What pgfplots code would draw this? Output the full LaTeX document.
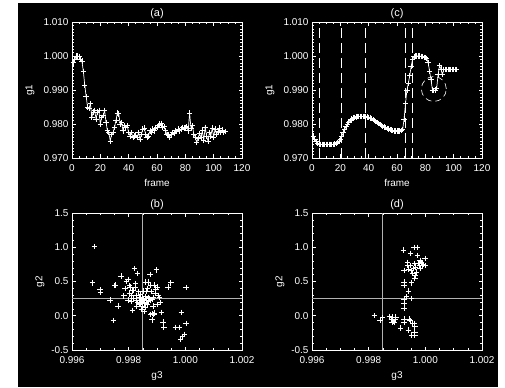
\documentclass[border=0pt]{standalone}
\usepackage{pgfplots}
\pgfplotsset{compat=1.18}
\usepackage{fontspec}
\setmainfont{Liberation Sans}
\newcommand{\idlfont}{\fontsize{10}{12}\selectfont}
\tikzset{ptitle/.style={white, font=\fontsize{11}{13}\selectfont, anchor=center}}

\pgfplotsset{idl/.style={
  scale only axis, width=170bp, height=136bp,
  anchor=south west,
  clip mode=individual,
  axis line style={white, line width=0.8bp},
  every tick/.style={white, line width=0.6bp},
  major tick length=3.5bp, minor tick length=2bp,
  tick align=inside,
  xtick pos=both, ytick pos=both,
  scaled ticks=false,
  tick label style={white, font=\idlfont},
  xticklabel style={yshift=-3bp},
  /pgf/number format/assume math mode=true,
  every axis x label/.style={at={(axis description cs:0.5,-0.184)}, anchor=center, white, font=\idlfont},
},
ylab/.style={every axis y label/.style={at={(axis description cs:#1,0.5)}, rotate=90, anchor=center, white, font=\idlfont}},
seriesline/.style={white, line width=0.7bp, mark=+, mark size=2.7bp, mark options={white, line width=0.7bp}},
scat/.style={only marks, mark=+, mark size=2.7bp, mark options={white, line width=0.8bp}},
}

\begin{document}
\begin{tikzpicture}[x=1bp,y=1bp]
\useasboundingbox (0,0) rectangle (505,387);
\fill[white] (0,0) rectangle (505,387);
\fill[black] (18,0) rectangle (498,384);

% ---------------- (a)
\begin{axis}[idl, at={(72bp,229bp)}, ylab=-0.247,
  xlabel={frame}, ylabel={g1},
  xmin=0, xmax=120, xtick={0,20,40,60,80,100,120}, minor x tick num=3,
  ymin=0.970, ymax=1.010, ytick={0.970,0.980,0.990,1.000,1.010}, minor y tick num=9,
  yticklabel style={/pgf/number format/.cd, fixed, fixed zerofill, precision=3},
]
\node[ptitle] at (rel axis cs:0.5,1.06) {(a)};
\addplot[seriesline] coordinates {
(1,0.998) (2,0.999) (3,1.000) (4,1.000) (5,0.9998) (6,0.999) (7,0.9985) (8,0.9955)
(9,0.9915) (10,0.988) (11,0.985) (12,0.9845) (13,0.986) (14,0.982) (15,0.9835) (16,0.984)
(17,0.9815) (18,0.9835) (19,0.984) (20,0.980) (21,0.982) (22,0.9825) (23,0.984) (24,0.9805)
(25,0.978) (26,0.9775) (27,0.975) (28,0.977) (29,0.9775) (30,0.979) (31,0.981) (32,0.9832)
(33,0.983) (34,0.980) (35,0.9805) (36,0.978) (37,0.9795) (38,0.979) (39,0.9795) (40,0.9775)
(41,0.9765) (42,0.9775) (43,0.976) (44,0.9765) (45,0.9768) (46,0.976) (47,0.9775) (48,0.9755)
(49,0.977) (50,0.9785) (51,0.9788) (52,0.977) (53,0.976) (54,0.9765) (55,0.978) (56,0.9775)
(57,0.9785) (58,0.978) (59,0.9788) (60,0.979) (61,0.9795) (62,0.980) (63,0.9802) (64,0.979)
(65,0.9792) (66,0.978) (67,0.977) (68,0.9768) (69,0.9762) (70,0.977) (71,0.9775) (72,0.9772)
(73,0.978) (74,0.9778) (75,0.9785) (76,0.978) (77,0.9785) (78,0.979) (79,0.9788) (80,0.979)
(81,0.9792) (82,0.978) (83,0.9832) (84,0.9788) (85,0.9795) (86,0.977) (87,0.9762) (88,0.9745)
(89,0.9758) (90,0.9772) (91,0.976) (92,0.978) (93,0.9752) (94,0.979) (95,0.9765) (96,0.975)
(97,0.9775) (98,0.9765) (99,0.9788) (100,0.9762) (101,0.9785) (102,0.977) (103,0.9778)
(104,0.9788) (105,0.9775) (106,0.9782) (107,0.9775) (108,0.9778)
};
\end{axis}

% ---------------- (c)
\begin{axis}[idl, at={(312bp,229bp)}, ylab=-0.247,
  xlabel={frame}, ylabel={g1},
  xmin=0, xmax=120, xtick={0,20,40,60,80,100,120}, minor x tick num=3,
  ymin=0.970, ymax=1.010, ytick={0.970,0.980,0.990,1.000,1.010}, minor y tick num=9,
  yticklabel style={/pgf/number format/.cd, fixed, fixed zerofill, precision=3},
]
\node[ptitle] at (rel axis cs:0.5,1.06) {(c)};
\foreach \xv in {5,20.5,37.5,65.5,70.8}{
  \edef\tmp{\noexpand\addplot[white, line width=0.6bp, dash pattern=on 10bp off 5bp] coordinates {(\xv,0.970) (\xv,1.010)};}
  \tmp
}
\addplot[seriesline] coordinates {
(1,0.9765) (2,0.9755) (3,0.9748) (4,0.9743) (5,0.9741) (6,0.974) (7,0.974) (8,0.974)
(9,0.974) (10,0.974) (11,0.974) (12,0.974) (13,0.974) (14,0.974) (15,0.974) (16,0.9741)
(17,0.9743) (18,0.9746) (19,0.975) (20,0.9756) (21,0.9764) (22,0.9774) (23,0.9784) (24,0.9793)
(25,0.980) (26,0.9806) (27,0.9811) (28,0.9815) (29,0.9818) (30,0.982) (31,0.9821) (32,0.9822)
(33,0.9822) (34,0.9822) (35,0.9822) (36,0.9822) (37,0.9822) (38,0.9822) (39,0.9821) (40,0.982)
(41,0.9818) (42,0.9816) (43,0.9813) (44,0.981) (45,0.9807) (46,0.9804) (47,0.9801) (48,0.9798)
(49,0.9796) (50,0.9793) (51,0.9791) (52,0.9789) (53,0.9787) (54,0.9785) (55,0.9783) (56,0.9782)
(57,0.9781) (58,0.978) (59,0.9779) (60,0.9779) (61,0.9779) (62,0.978) (63,0.9781) (64,0.9784)
(65,0.9815) (66,0.986) (67,0.990) (68,0.992) (69,0.9942) (70,0.997) (71,0.999) (72,0.9998)
(73,1.000) (74,1.000) (75,1.000) (76,1.000) (77,0.9999) (78,0.9998) (79,0.9996) (80,0.9995)
(81,0.9993) (82,0.998) (83,0.9955) (84,0.993) (85,0.990) (86,0.9898) (87,0.990) (88,0.9905)
(89,0.9945) (90,0.9972) (91,0.9962) (92,0.9945) (93,0.996) (94,0.996) (95,0.996) (96,0.996)
(97,0.996) (98,0.996) (99,0.996) (100,0.996) (101,0.996) (102,0.996)
};
\draw[white, line width=0.6bp, dash pattern=on 6bp off 4bp] (axis cs:86,0.9903) circle [radius=12.5bp];
\end{axis}

% ---------------- (b)
\begin{axis}[idl, at={(72bp,37bp)}, height=137bp, ylab=-0.188,
  xlabel={g3}, ylabel={g2},
  every axis x label/.append style={at={(axis description cs:0.5,-0.19)}},
  xmin=0.996, xmax=1.002, xtick={0.996,0.998,1.000,1.002}, minor x tick num=3,
  ymin=-0.5, ymax=1.5, ytick={-0.5,0,0.5,1,1.5}, minor y tick num=4,
  xticklabel style={/pgf/number format/.cd, fixed, fixed zerofill, precision=3},
  yticklabel style={/pgf/number format/.cd, fixed, fixed zerofill, precision=1},
]
\node[ptitle] at (rel axis cs:0.5,1.06) {(b)};
\addplot[gray!60!white, line width=0.8bp] coordinates {(0.99847,-0.5) (0.99847,1.5)};
\addplot[gray!60!white, line width=0.8bp] coordinates {(0.996,0.25) (1.002,0.25)};
\addplot[scat] coordinates {
(0.99679,1.01) (0.99673,0.48) (0.99699,0.38) (0.99701,0.34) (0.99734,0.23) (0.99746,-0.07)
(0.99751,0.44) (0.99754,0.45) (0.99763,0.14) (0.99773,0.58) (0.99783,0.29) (0.99787,0.40)
(0.99792,0.50) (0.99798,0.53) (0.99802,0.44) (0.99804,0.32) (0.99798,0.23) (0.99808,0.21)
(0.99814,0.08) (0.99821,0.69) (0.99818,0.37) (0.99825,0.47) (0.99827,0.14) (0.99831,0.62)
(0.99837,0.27) (0.99839,0.17) (0.99842,0.31) (0.99845,0.22) (0.99851,0.36) (0.99854,0.06)
(0.99860,0.49) (0.99862,0.35) (0.99865,0.17) (0.99868,0.27) (0.99871,0.49) (0.99875,0.60)
(0.99877,0.23) (0.99880,0.35) (0.99882,-0.06) (0.99886,0.14) (0.99889,0.02) (0.99893,0.33)
(0.99896,0.39) (0.99898,0.67) (0.99900,0.16) (0.99902,0.42) (0.99908,0.27) (0.99912,0.19)
(0.99915,0.05) (0.99921,-0.09) (0.99924,-0.17) (0.99939,0.42) (0.99949,0.48) (0.99965,-0.17)
(0.99980,-0.17) (0.99986,0.05) (0.99983,-0.34) (0.99990,-0.30) (0.99996,-0.27) (1.00002,0.41)
(1.00002,-0.11)
(0.99828,0.22) (0.99832,0.19) (0.99835,0.35) (0.99840,0.23) (0.99843,0.18) (0.99848,0.26)
(0.99850,0.20) (0.99853,0.24) (0.99856,0.18) (0.99858,0.28) (0.99861,0.22) (0.99866,0.40)
(0.99870,0.21) (0.99874,0.25) (0.99878,0.44) (0.99885,0.24) (0.99888,0.27) (0.99878,0.02)
(0.99883,0.03) (0.99891,0.04) (0.99822,0.41) (0.99815,0.26) (0.99810,0.29) (0.99812,0.37)
(0.99805,0.42) (0.99826,0.30) (0.99858,0.12) (0.99845,0.10) (0.99850,0.14) (0.99890,0.45)
(0.99905,0.30)
};
\end{axis}

% ---------------- (d)
\begin{axis}[idl, at={(312bp,37bp)}, height=137bp, ylab=-0.188,
  xlabel={g3}, ylabel={g2},
  every axis x label/.append style={at={(axis description cs:0.5,-0.19)}},
  xmin=0.996, xmax=1.002, xtick={0.996,0.998,1.000,1.002}, minor x tick num=3,
  ymin=-0.5, ymax=1.5, ytick={-0.5,0,0.5,1,1.5}, minor y tick num=4,
  xticklabel style={/pgf/number format/.cd, fixed, fixed zerofill, precision=3},
  yticklabel style={/pgf/number format/.cd, fixed, fixed zerofill, precision=1},
]
\node[ptitle] at (rel axis cs:0.5,1.06) {(d)};
\addplot[gray!60!white, line width=0.8bp] coordinates {(0.99850,-0.5) (0.99850,1.5)};
\addplot[gray!60!white, line width=0.8bp] coordinates {(0.996,0.25) (1.002,0.25)};
\addplot[scat] coordinates {
(0.99820,0.00) (0.99840,-0.07) (0.99849,-0.03) (0.99874,-0.01) (0.99880,-0.05) (0.99883,-0.09)
(0.99885,-0.02) (0.99887,-0.08) (0.99893,-0.06) (0.99896,-0.02) (0.99890,-0.10) (0.99913,-0.18)
(0.99922,0.96) (0.99925,0.24) (0.99925,0.18) (0.99925,0.11) (0.99925,0.49) (0.99925,0.44)
(0.99925,0.66) (0.99925,-0.05) (0.99925,-0.10) (0.99934,0.28) (0.99938,0.78) (0.99938,0.73)
(0.99940,0.68) (0.99940,0.36) (0.99940,-0.21) (0.99944,-0.05) (0.99946,-0.07) (0.99948,0.91)
(0.99952,0.66) (0.99954,0.62) (0.99952,0.48) (0.99952,0.25) (0.99952,-0.28) (0.99956,-0.11)
(0.99960,1.00) (0.99960,-0.11) (0.99963,-0.16) (0.99963,0.76) (0.99966,0.71) (0.99969,0.64)
(0.99963,0.54) (0.99964,0.59) (0.99963,-0.24) (0.99963,-0.28) (0.99972,1.00) (0.99973,0.88)
(0.99975,0.76) (0.99979,0.73) (0.99981,0.69) (0.99981,0.81) (0.99983,0.80) (0.99987,0.78)
(0.99990,0.73) (0.99993,0.75) (0.99999,0.84) (0.99999,0.73) (0.99948,0.73) (0.99958,0.69)
};
\end{axis}
\end{tikzpicture}
\end{document}
